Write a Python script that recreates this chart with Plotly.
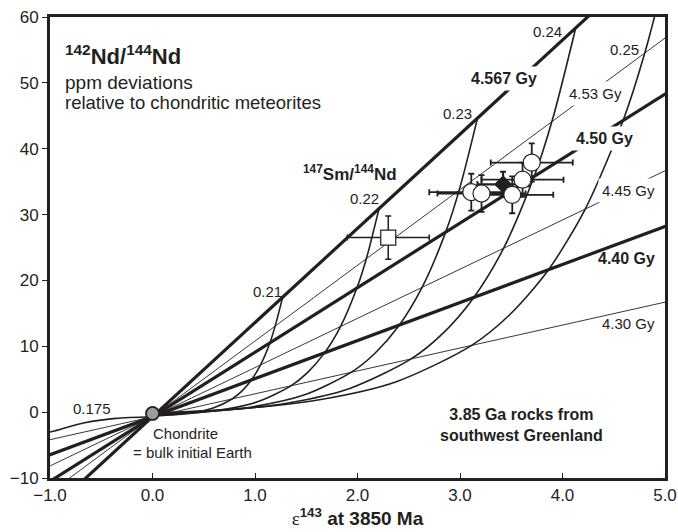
import plotly.graph_objects as go

# ---------------- data ----------------
iso_ages = ["4.567", "4.53", "4.50", "4.45", "4.40", "4.30"]
iso_slopes = [14.3, 11.5, 9.8, 7.47, 5.78, 3.48]
iso_bold = [True, False, True, False, True, False]
iso_intercept = -0.7
iso_xspan = [-1.5, 5.5]

# Sm/Nd evolution curves (x = eps143, y = ppm 142Nd)
curve_ratios = ["0.175", "0.21", "0.22", "0.23", "0.24", "0.25"]
curve_x = [
    [-1.12, -0.97, -0.66, -0.36, 0.0],
    [1.27, 1.20, 1.146, 1.054, 0.961, 0.869, 0.776, 0.592, 0.406, 0.222, 0.0],
    [2.21, 2.091, 1.995, 1.834, 1.673, 1.512, 1.350, 1.030, 0.707, 0.387, 0.0],
    [3.17, 2.999, 2.861, 2.630, 2.400, 2.168, 1.937, 1.477, 1.014, 0.555, 0.0],
    [4.13, 3.907, 3.727, 3.427, 3.126, 2.825, 2.523, 1.925, 1.322, 0.723, 0.0],
    [5.09, 4.815, 4.594, 4.223, 3.853, 3.482, 3.110, 2.372, 1.629, 0.891, 0.0],
]
curve_y = [
    [-3.5, -2.9, -1.6, -0.95, -0.7],
    [17.46, 13.25, 10.55, 7.17, 4.81, 3.15, 2.00, 0.62, -0.05, -0.38, -0.57],
    [30.9, 23.57, 18.88, 13.0, 8.89, 6.01, 3.99, 1.60, 0.43, -0.15, -0.47],
    [44.6, 34.09, 27.37, 18.94, 13.04, 8.91, 6.03, 2.59, 0.91, 0.09, -0.36],
    [58.4, 44.69, 35.92, 24.93, 17.23, 11.84, 8.08, 3.60, 1.40, 0.33, -0.26],
    [72.1, 55.21, 44.41, 30.87, 21.39, 14.75, 10.11, 4.59, 1.89, 0.57, -0.16],
]

# samples
sq_x, sq_y, sq_ex, sq_ey = [2.30], [26.5], [0.40], [3.3]
dia_x, dia_y, dia_ex, dia_ey = [3.42], [34.6], [0.25], [1.9]
circ_x = [3.11, 3.21, 3.51, 3.61, 3.70]
circ_y = [33.4, 33.2, 33.0, 35.3, 37.9]
circ_ex = [0.41, 0.43, 0.40, 0.40, 0.40]
circ_ey = [2.8, 2.8, 2.8, 2.6, 2.9]
chon_x, chon_y = [0.0], [-0.2]

x_ticks = [-1, 0, 1, 2, 3, 4, 5]
x_ticktext = ["\u22121.0", "0.0", "1.0", "2.0", "3.0", "4.0", "5.0"]
y_ticks = [-10, 0, 10, 20, 30, 40, 50, 60]
y_ticktext = ["\u221210", "0", "10", "20", "30", "40", "50", "60"]

INK = "#231f20"
FONT = "Liberation Sans, Arial, Helvetica, sans-serif"

fig = go.Figure()

# curves
for xs, ys in zip(curve_x, curve_y):
    fig.add_trace(go.Scatter(x=xs, y=ys, mode="lines",
                             line=dict(color=INK, width=1.6, shape="spline", smoothing=0.8),
                             hoverinfo="skip", showlegend=False))

# isochrons
for s, b in zip(iso_slopes, iso_bold):
    xs = iso_xspan
    ys = [iso_intercept + s * v for v in xs]
    fig.add_trace(go.Scatter(x=xs, y=ys, mode="lines",
                             line=dict(color=INK, width=3.2 if b else 0.9),
                             hoverinfo="skip", showlegend=False))

# samples
fig.add_trace(go.Scatter(x=sq_x, y=sq_y, mode="markers",
                         marker=dict(symbol="square", size=15, color="white",
                                     line=dict(color=INK, width=1.2)),
                         error_x=dict(type="data", array=sq_ex, color=INK, thickness=1.5, width=3),
                         error_y=dict(type="data", array=sq_ey, color=INK, thickness=1.5, width=3),
                         showlegend=False))
fig.add_trace(go.Scatter(x=dia_x, y=dia_y, mode="markers",
                         marker=dict(symbol="diamond", size=13, color=INK,
                                     line=dict(color=INK, width=1)),
                         error_x=dict(type="data", array=dia_ex, color=INK, thickness=2.2, width=3),
                         error_y=dict(type="data", array=dia_ey, color=INK, thickness=2.2, width=3),
                         showlegend=False))
fig.add_trace(go.Scatter(x=circ_x, y=circ_y, mode="markers",
                         marker=dict(symbol="circle", size=17, color="white",
                                     line=dict(color=INK, width=1.2)),
                         error_x=dict(type="data", array=circ_ex, color=INK, thickness=1.8, width=3),
                         error_y=dict(type="data", array=circ_ey, color=INK, thickness=1.8, width=3),
                         showlegend=False))
fig.add_trace(go.Scatter(x=chon_x, y=chon_y, mode="markers",
                         marker=dict(symbol="circle", size=13, color="#9b9b9b",
                                     line=dict(color=INK, width=1.8)),
                         showlegend=False))

def ann(text, x, y, size=15, bg=None, xanchor="center", yanchor="middle"):
    d = dict(text=text, x=x, y=y, xref="x", yref="y", showarrow=False,
             font=dict(family=FONT, size=size, color=INK),
             xanchor=xanchor, yanchor=yanchor)
    if bg:
        d.update(bgcolor=bg, borderpad=3)
    fig.add_annotation(**d)

ann("<b><sup>142</sup>Nd/<sup>144</sup>Nd</b>", -0.87, 54.2, size=22, xanchor="left")
ann("ppm deviations", -0.87, 50.1, size=19, xanchor="left")
ann("relative to chondritic meteorites", -0.87, 47.0, size=18.5, xanchor="left")
ann("<b><sup>147</sup>Sm/<sup>144</sup>Nd</b>", 1.93, 36.3, size=17)

ann("0.175", -0.59, 0.6)
ann("0.21", 1.12, 18.3)
ann("0.22", 2.07, 32.5)
ann("0.23", 2.98, 45.4)
ann("0.24", 3.85, 57.8)
ann("0.25", 4.60, 55.1)

ann("<b>4.567 Gy</b>", 3.43, 50.7, size=16, bg="white")
ann("4.53 Gy", 4.32, 48.4, bg="white")
ann("<b>4.50 Gy</b>", 4.41, 41.6, size=16, bg="white")
ann("4.45 Gy", 4.64, 33.7, bg="white")
ann("<b>4.40 Gy</b>", 4.62, 23.4, size=16)
ann("4.30 Gy", 4.64, 13.4)

ann("Chondrite", 0.32, -3.2)
ann("= bulk initial Earth", 0.39, -6.1)
ann("<b>3.85 Ga rocks from<br>southwest Greenland</b>", 3.60, -1.9, size=16)

fig.update_layout(
    width=678, height=532,
    margin=dict(l=50, r=13, t=17, b=54),
    paper_bgcolor="white", plot_bgcolor="white",
    font=dict(family=FONT, size=17, color=INK),
    showlegend=False,
    xaxis=dict(range=[-1, 5], tickvals=x_ticks, ticktext=x_ticktext,
               automargin=False, ticklabeloverflow="allow",
               showgrid=False, zeroline=False, showline=True, mirror=True,
               linecolor=INK, linewidth=3, ticks="inside", ticklen=5,
               tickwidth=1.2, tickcolor=INK,
               tickfont=dict(family=FONT, size=17, color=INK),
               title=dict(text="<b><span style='font-family:Liberation Serif;font-weight:normal'>\u03b5</span><sup>143</sup> at 3850 Ma</b>",
                          font=dict(family=FONT, size=19, color=INK), standoff=6)),
    yaxis=dict(range=[-10, 60], tickvals=y_ticks, ticktext=y_ticktext,
               automargin=False, ticklabeloverflow="allow",
               showgrid=False, zeroline=False, showline=True, mirror=True,
               linecolor=INK, linewidth=3, ticks="outside", ticklen=5,
               tickwidth=1.2, tickcolor=INK,
               tickfont=dict(family=FONT, size=17, color=INK)),
)

# remove the browser's default 8px page margin so the 678x532 figure fills the window
fig.write_html("out.html",
               config={"displayModeBar": False},
               post_script="document.body.style.margin='0';"
                           "document.documentElement.style.overflow='hidden';")
